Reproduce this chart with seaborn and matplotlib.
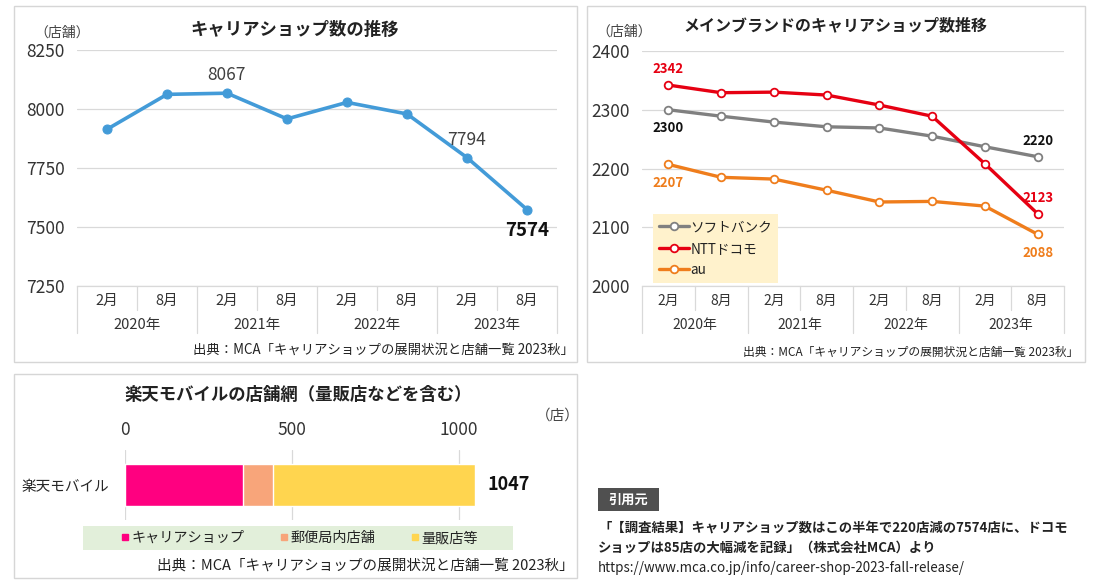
import numpy as np
import pandas as pd
import matplotlib
matplotlib.use("Agg")
import matplotlib.pyplot as plt
from matplotlib.patches import Rectangle
from matplotlib.lines import Line2D
import seaborn as sns

# data
months = ["2月", "8月"] * 4
years = ["2020年", "2021年", "2022年", "2023年"]
total_shops = [7914, 8062, 8067, 7958, 8028, 7979, 7794, 7574]

brands = ["ソフトバンク", "NTTドコモ", "au"]
softbank = [2300, 2289, 2279, 2271, 2269, 2255, 2237, 2220]
docomo = [2342, 2329, 2330, 2325, 2308, 2289, 2208, 2123]
au = [2207, 2185, 2182, 2163, 2143, 2144, 2136, 2088]

rakuten_label = "楽天モバイル"
rakuten_parts = ["キャリアショップ", "郵便局内店舗", "量販店等"]
rakuten_values = [353, 89, 605]

source = "出典：MCA「キャリアショップの展開状況と店舗一覧 2023秋」"

sns.set_theme(style="white")
plt.rcParams["font.family"] = ["Noto Sans CJK JP", "DejaVu Sans"]
plt.rcParams["text.color"] = "#222222"

W, H = 1100, 586
fig = plt.figure(figsize=(11, 5.86), dpi=100)
fig.patch.set_facecolor("white")


def box(x0, y0, x1, y1):
    return [x0 / W, 1 - y1 / H, (x1 - x0) / W, (y1 - y0) / H]


def fx(x):
    return x / W


def fy(y):
    return 1 - y / H


def panel(x0, y0, x1, y1):
    fig.patches.append(Rectangle((fx(x0), fy(y1)), (x1 - x0) / W, (y1 - y0) / H,
                                 transform=fig.transFigure, fill=False,
                                 edgecolor="#d6d6d6", lw=1.0))


def period_axis(ax, n, axis_h, size):
    ax.set_xlim(-0.5, n - 0.5)
    ax.set_xticks(np.arange(n))
    ax.set_xticklabels(months, fontsize=size, color="#333333")
    ax.tick_params(axis="x", length=0, pad=6)
    tr = ax.get_xaxis_transform()
    for i in range(n + 1):
        depth = 47 / axis_h if i % 2 == 0 else 24 / axis_h
        ax.plot([i - 0.5, i - 0.5], [0, -depth], transform=tr, clip_on=False,
                color="#d9d9d9", lw=0.9)
    for k, yr in enumerate(years):
        ax.text(2 * k + 0.5, -39 / axis_h, yr, transform=tr, ha="center",
                va="center", fontsize=size, color="#333333")


def style_value_axis(ax, ticks, size):
    ax.set_yticks(ticks)
    ax.set_yticklabels([str(t) for t in ticks], fontsize=size, color="#333333")
    ax.tick_params(axis="y", length=0, pad=9)
    ax.grid(axis="y", color="#d9d9d9", lw=0.9)
    ax.set_axisbelow(True)
    for s in ["top", "left", "right"]:
        ax.spines[s].set_visible(False)
    ax.spines["bottom"].set_color("#d9d9d9")
    ax.spines["bottom"].set_linewidth(0.9)


# ---------- panel 1: total carrier shops ----------
panel(14, 6, 577, 362)
ax1 = fig.add_axes(box(77, 50, 557, 286))
idx = np.arange(len(total_shops))
sns.lineplot(x=idx, y=total_shops, ax=ax1, color="#439bd8", lw=2.6,
             marker="o", markersize=6.5, markeredgecolor="#439bd8")
ax1.set_ylim(7250, 8250)
style_value_axis(ax1, [7250, 7500, 7750, 8000, 8250], 12.5)
period_axis(ax1, len(total_shops), 236, 10.5)
ax1.set_xlabel("")
ax1.set_ylabel("")
ax1.annotate(str(total_shops[2]), (2, total_shops[2]), xytext=(0, 13),
             textcoords="offset points", ha="center", va="center",
             fontsize=12.5, color="#404040")
ax1.annotate(str(total_shops[6]), (6, total_shops[6]), xytext=(0, 13),
             textcoords="offset points", ha="center", va="center",
             fontsize=12.5, color="#404040")
ax1.annotate(str(total_shops[7]), (7, total_shops[7]), xytext=(0, -15),
             textcoords="offset points", ha="center", va="center",
             fontsize=13.5, fontweight="bold", color="#111111")
fig.text(fx(295), fy(30), "キャリアショップ数の推移", ha="center", va="center",
         fontsize=12.5, fontweight="bold")
fig.text(fx(62), fy(33), "（店舗）", ha="center", va="center", fontsize=10,
         color="#444444")
fig.text(fx(574), fy(350), source, ha="right", va="center", fontsize=9.6)

# ---------- panel 2: main brands ----------
panel(587, 6, 1085, 362)
ax2 = fig.add_axes(box(642, 51, 1064, 286))
brand_df = pd.DataFrame({
    "idx": np.tile(idx, 3),
    "stores": softbank + docomo + au,
    "brand": np.repeat(brands, len(idx)),
})
brand_colors = {"ソフトバンク": "#808080", "NTTドコモ": "#e60012", "au": "#ef7d1c"}
for b in brands:
    sub = brand_df[brand_df["brand"] == b]
    sns.lineplot(data=sub, x="idx", y="stores", ax=ax2, color=brand_colors[b],
                 lw=2.4, marker="o", markersize=5.5, markerfacecolor="white",
                 markeredgecolor=brand_colors[b], markeredgewidth=1.3, label=b)
ax2.set_ylim(2000, 2400)
style_value_axis(ax2, [2000, 2100, 2200, 2300, 2400], 12.5)
period_axis(ax2, len(idx), 235, 10)
ax2.set_xlabel("")
ax2.set_ylabel("")

labels2 = [
    (0, docomo[0], 16, "NTTドコモ"),
    (0, softbank[0], -18, "ソフトバンク"),
    (0, au[0], -19, "au"),
    (7, softbank[7], 16, "ソフトバンク"),
    (7, docomo[7], 16, "NTTドコモ"),
    (7, au[7], -19, "au"),
]
for xi, v, dy, b in labels2:
    c = "#111111" if b == "ソフトバンク" else brand_colors[b]
    ax2.annotate(str(v), (xi, v), xytext=(0, dy * 0.72), textcoords="offset points",
                 ha="center", va="center", fontsize=9.5, fontweight="bold",
                 color=c)
leg = ax2.legend(loc="upper left", bbox_to_anchor=(fx(653), fy(214)),
                 bbox_transform=fig.transFigure, frameon=True, fancybox=False,
                 facecolor="#fff2cc", edgecolor="none", framealpha=1,
                 fontsize=9.8, handlelength=2.2, handletextpad=0.1,
                 labelspacing=0.55, borderpad=0.45, borderaxespad=0)
fig.text(fx(835), fy(25), "メインブランドのキャリアショップ数推移", ha="center",
         va="center", fontsize=11.5, fontweight="bold")
fig.text(fx(624), fy(32), "（店舗）", ha="center", va="center", fontsize=10,
         color="#444444")
fig.text(fx(1078), fy(352), source, ha="right", va="center", fontsize=8.5)

# ---------- panel 3: Rakuten stacked bar ----------
panel(14, 374, 577, 578)
ax3 = fig.add_axes(box(125, 450, 509, 520))
part_colors = ["#ff0080", "#f8a57a", "#ffd54f"]
cum = np.cumsum(rakuten_values)
for i in range(len(rakuten_values) - 1, -1, -1):
    sns.barplot(x=[cum[i]], y=[rakuten_label], orient="h", color=part_colors[i],
                saturation=1, width=0.6, ax=ax3)
ax3.set_xlim(0, 1150)
ax3.set_ylim(0.5, -0.5)
ax3.set_xticks([0, 500, 1000])
ax3.set_xticklabels(["0", "500", "1000"], fontsize=12.5, color="#333333")
ax3.xaxis.tick_top()
ax3.tick_params(axis="x", length=0, pad=8)
ax3.tick_params(axis="y", length=0, pad=11, labelsize=10.5)
ax3.grid(axis="x", color="#d9d9d9", lw=0.9)
ax3.set_axisbelow(True)
for s in ax3.spines.values():
    s.set_visible(False)
ax3.set_xlabel("")
ax3.set_ylabel("")
ax3.annotate(str(cum[-1]), (cum[-1], 0), xytext=(9, 0), textcoords="offset points",
             ha="left", va="center", fontsize=13, fontweight="bold",
             color="#111111")
fig.text(fx(298), fy(395), "楽天モバイルの店舗網（量販店などを含む）", ha="center",
         va="center", fontsize=12.5, fontweight="bold")
fig.text(fx(558), fy(416), "（店）", ha="center", va="center", fontsize=10.5,
         color="#444444")
fig.patches.append(Rectangle((fx(83), fy(550)), 430 / W, 24 / H,
                             transform=fig.transFigure, facecolor="#e2efda",
                             edgecolor="none"))
handles = [Line2D([], [], marker="s", ls="", color=c, markersize=4.5)
           for c in part_colors]
fig.legend(handles, rakuten_parts, loc="center", bbox_to_anchor=(fx(299), fy(538)),
           ncol=3, frameon=False, fontsize=10.2, handlelength=0.6,
           handletextpad=0.15, columnspacing=2.5)
fig.text(fx(574), fy(567), source, ha="right", va="center", fontsize=10.5)

# ---------- citation block ----------
fig.patches.append(Rectangle((fx(598), fy(511)), 61 / W, 23 / H,
                             transform=fig.transFigure, facecolor="#505050",
                             edgecolor="none"))
fig.text(fx(628.5), fy(499.5), "引用元", ha="center", va="center", fontsize=9.5,
         fontweight="bold", color="white")
cite = [
    "「【調査結果】キャリアショップ数はこの半年で220店減の7574店に、ドコモ",
    "ショップは85店の大幅減を記録」（株式会社MCA）より",
    "https://www.mca.co.jp/info/career-shop-2023-fall-release/",
]
for k, line in enumerate(cite):
    fig.text(fx(598), fy(528 + 20 * k), line, ha="left", va="center",
             fontsize=9.6, fontweight="bold" if k < 2 else "normal",
             color="#222222")

fig.savefig("out.png", dpi=100)
